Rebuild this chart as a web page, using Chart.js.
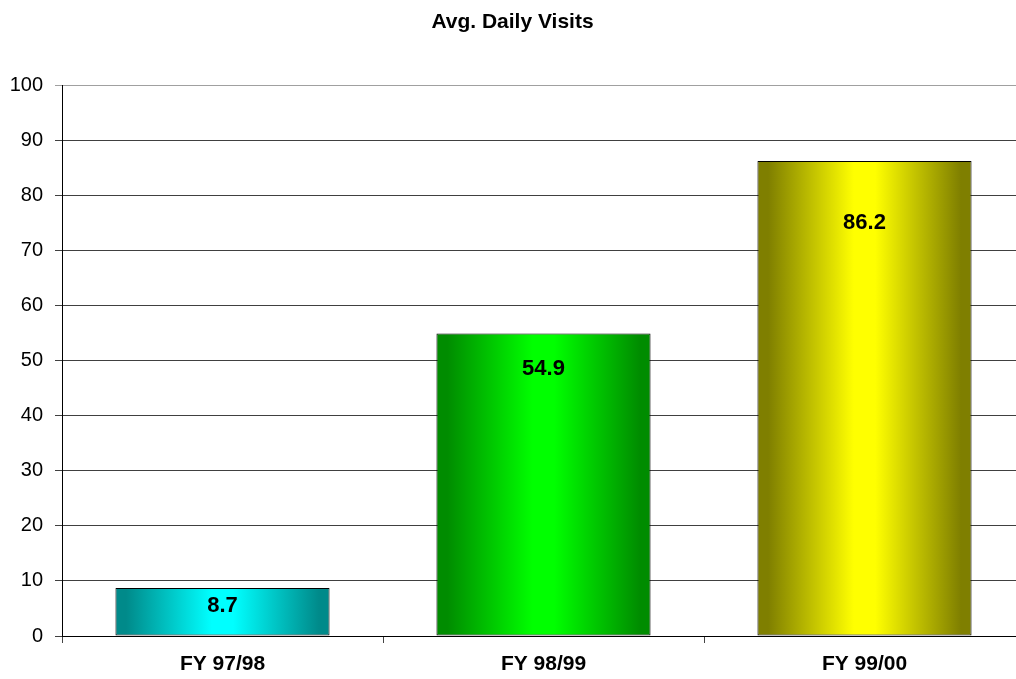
<!DOCTYPE html>
<html>
<head>
<meta charset="utf-8">
<script src="https://cdn.jsdelivr.net/npm/chart.js@4"></script>
<style>
  html, body { margin: 0; padding: 0; background: #fff; overflow: hidden; }
  /* plot runs slightly past the right edge of the window, like the original */
  #wrap { width: 1025px; height: 679px; }
</style>
</head>
<body>
<div id="wrap"><canvas id="chart"></canvas></div>
<script>
const CATEGORIES = ["FY 97/98", "FY 98/99", "FY 99/00"];
const VISITS = [8.7, 54.9, 86.2];
const Y_TICKS = [0, 10, 20, 30, 40, 50, 60, 70, 80, 90, 100];

const FONT = "'Liberation Sans', Arial, sans-serif";
const BAR_PCT = 0.667;

// dark edge / bright centre per bar
const BAR_COLORS = [
  { dark: "#008a8a", light: "#00ffff" },
  { dark: "#008c00", light: "#00ff00" },
  { dark: "#7f7f00", light: "#ffff00" }
];

function barGradient(ctx) {
  const chart = ctx.chart;
  const i = ctx.dataIndex;
  if (i === undefined || !chart.chartArea) return BAR_COLORS[0].light;
  const xs = chart.scales.x;
  const cx = xs.getPixelForValue(i);
  const w = (xs.width / CATEGORIES.length) * BAR_PCT;
  const c = BAR_COLORS[i];
  const g = chart.ctx.createLinearGradient(cx - w / 2, 0, cx + w / 2, 0);
  g.addColorStop(0, c.dark);
  g.addColorStop(0.05, c.dark);
  g.addColorStop(0.45, c.light);
  g.addColorStop(0.55, c.light);
  g.addColorStop(0.95, c.dark);
  g.addColorStop(1, c.dark);
  return g;
}

// value labels sit inside the bar, a bit below its top
const valueLabels = {
  id: "valueLabels",
  afterDatasetsDraw(chart, args, opts) {
    const ctx = chart.ctx;
    const meta = chart.getDatasetMeta(0);
    ctx.save();
    ctx.font = "bold 22px " + FONT;
    ctx.fillStyle = "#000";
    ctx.textAlign = "center";
    ctx.textBaseline = "middle";
    meta.data.forEach((bar, i) => {
      ctx.fillText(VISITS[i].toFixed(1), bar.x, bar.y + opts.insets[i]);
    });
    ctx.restore();
  }
};

new Chart(document.getElementById("chart"), {
  type: "bar",
  data: {
    labels: CATEGORIES,
    datasets: [{
      data: VISITS,
      backgroundColor: barGradient,
      borderColor: "#000",
      borderWidth: 1,
      borderSkipped: false,
      barPercentage: BAR_PCT,
      categoryPercentage: 1
    }]
  },
  options: {
    responsive: true,
    maintainAspectRatio: false,
    animation: false,
    devicePixelRatio: 1,
    layout: { padding: 0 },
    plugins: {
      legend: { display: false },
      tooltip: { enabled: false },
      title: {
        display: true,
        text: "Avg. Daily Visits",
        color: "#000",
        font: { family: FONT, size: 21, weight: "bold" },
        padding: { top: 9.5, bottom: 50.3 }
      },
      valueLabels: { insets: [18, 35, 62] }
    },
    scales: {
      x: {
        offset: true,
        afterFit(scale) { scale.height = 43; },
        grid: {
          offset: true,
          drawOnChartArea: false,
          drawTicks: true,
          tickLength: 7,
          color: "#444"
        },
        border: { color: "#000", width: 1 },
        ticks: {
          color: "#000",
          padding: 9,
          font: { family: FONT, size: 21, weight: "bold" }
        }
      },
      y: {
        min: 0,
        max: 100,
        afterFit(scale) { scale.width = 62; },
        afterBuildTicks(scale) { scale.ticks = Y_TICKS.map(v => ({ value: v })); },
        grid: {
          color: (c) => (c.tick && c.tick.value === 100 ? "#a0a0a0" : "#404040"),
          tickLength: 7,
          lineWidth: 1
        },
        border: { color: "#000", width: 1 },
        ticks: {
          color: "#000",
          padding: 12,
          font: { family: FONT, size: 20 }
        }
      }
    }
  },
  plugins: [valueLabels]
});
</script>
</body>
</html>
